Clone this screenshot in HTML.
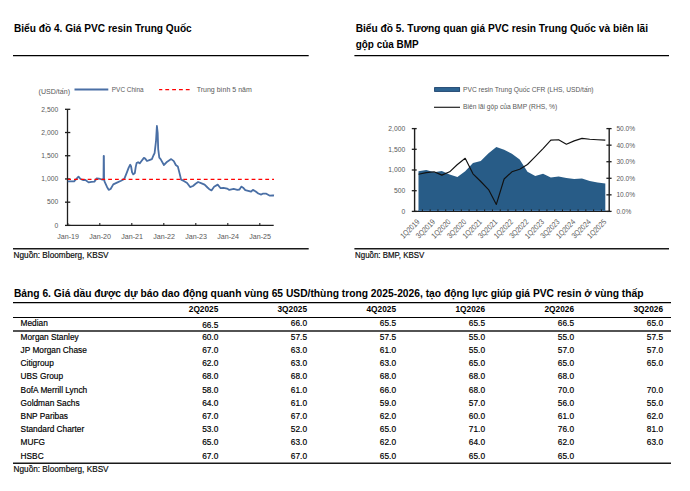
<!DOCTYPE html>
<html><head><meta charset="utf-8"><style>
html,body{margin:0;padding:0;background:#fff;width:690px;height:491px;overflow:hidden}
svg{display:block;font-family:"Liberation Sans", sans-serif}
</style></head><body>
<svg width="690" height="491" viewBox="0 0 690 491">
<rect width="690" height="491" fill="#fff"/>
<text x="14" y="31.7" font-size="10.5" font-weight="700" fill="#000" textLength="177.7" lengthAdjust="spacingAndGlyphs">Biểu đồ 4. Giá PVC resin Trung Quốc</text>
<text x="355.7" y="31.8" font-size="10.5" font-weight="700" fill="#000" textLength="292.3" lengthAdjust="spacingAndGlyphs">Biểu đồ 5. Tương quan giá PVC resin Trung Quốc và biên lãi</text>
<text x="355.7" y="48.0" font-size="10.5" font-weight="700" fill="#000" textLength="62.9" lengthAdjust="spacingAndGlyphs">gộp của BMP</text>
<line x1="13" y1="55.6" x2="308.7" y2="55.6" stroke="#000" stroke-width="1.2"/>
<line x1="354.4" y1="55.6" x2="669" y2="55.6" stroke="#000" stroke-width="1.2"/>
<line x1="13" y1="248.8" x2="308.7" y2="248.8" stroke="#1a1a1a" stroke-width="1.4"/>
<line x1="354.4" y1="248.8" x2="669" y2="248.8" stroke="#1a1a1a" stroke-width="1.4"/>
<text x="13.6" y="258" font-size="8.3" fill="#111" textLength="95" lengthAdjust="spacingAndGlyphs" stroke="#000" stroke-width="0.18">Nguồn: Bloomberg, KBSV</text>
<text x="355.1" y="258" font-size="8.3" fill="#111" textLength="69.2" lengthAdjust="spacingAndGlyphs" stroke="#000" stroke-width="0.18">Nguồn: BMP, KBSV</text>
<text x="38.6" y="94.4" font-size="7.9" fill="#595959" textLength="31.4" lengthAdjust="spacingAndGlyphs">(USD/tấn)</text>
<line x1="74.5" y1="89.5" x2="108.3" y2="89.5" stroke="#4a6fa5" stroke-width="2"/>
<text x="111.8" y="91.8" font-size="7.9" fill="#595959" textLength="31.9" lengthAdjust="spacingAndGlyphs">PVC China</text>
<line x1="159.1" y1="89.7" x2="190.6" y2="89.7" stroke="#ff0000" stroke-width="1.2" stroke-dasharray="3.8 3.03" stroke-dashoffset="0.6"/>
<text x="196.7" y="91.7" font-size="7.9" fill="#595959" textLength="55.1" lengthAdjust="spacingAndGlyphs">Trung bình 5 năm</text>
<line x1="67.5" y1="109.3" x2="67.5" y2="226.0" stroke="#1e1e1e" stroke-width="1.3"/>
<line x1="65" y1="225.4" x2="70.3" y2="225.4" stroke="#1e1e1e" stroke-width="1.3"/>
<text x="58.2" y="227.70000000000002" font-size="7.9" fill="#595959" text-anchor="end" textLength="3.75" lengthAdjust="spacingAndGlyphs">0</text>
<line x1="65" y1="202.18" x2="70.3" y2="202.18" stroke="#1e1e1e" stroke-width="1.3"/>
<text x="58.2" y="204.48000000000002" font-size="7.9" fill="#595959" text-anchor="end" textLength="11.25" lengthAdjust="spacingAndGlyphs">500</text>
<line x1="65" y1="178.96" x2="70.3" y2="178.96" stroke="#1e1e1e" stroke-width="1.3"/>
<text x="58.2" y="181.26000000000002" font-size="7.9" fill="#595959" text-anchor="end" textLength="16.85" lengthAdjust="spacingAndGlyphs">1,000</text>
<line x1="65" y1="155.74" x2="70.3" y2="155.74" stroke="#1e1e1e" stroke-width="1.3"/>
<text x="58.2" y="158.04000000000002" font-size="7.9" fill="#595959" text-anchor="end" textLength="16.85" lengthAdjust="spacingAndGlyphs">1,500</text>
<line x1="65" y1="132.52" x2="70.3" y2="132.52" stroke="#1e1e1e" stroke-width="1.3"/>
<text x="58.2" y="134.82000000000002" font-size="7.9" fill="#595959" text-anchor="end" textLength="16.85" lengthAdjust="spacingAndGlyphs">2,000</text>
<line x1="65" y1="109.30000000000001" x2="70.3" y2="109.30000000000001" stroke="#1e1e1e" stroke-width="1.3"/>
<text x="58.2" y="111.60000000000001" font-size="7.9" fill="#595959" text-anchor="end" textLength="16.85" lengthAdjust="spacingAndGlyphs">2,500</text>
<line x1="67.1" y1="225.4" x2="273.7" y2="225.4" stroke="#1e1e1e" stroke-width="1.4"/>
<line x1="67.8" y1="222.9" x2="67.8" y2="225.4" stroke="#1e1e1e" stroke-width="1.1"/>
<text x="68.1" y="238.9" font-size="7.9" fill="#595959" text-anchor="middle" textLength="21.8" lengthAdjust="spacingAndGlyphs">Jan-19</text>
<line x1="99.8" y1="222.9" x2="99.8" y2="225.4" stroke="#1e1e1e" stroke-width="1.1"/>
<text x="100.1" y="238.9" font-size="7.9" fill="#595959" text-anchor="middle" textLength="21.8" lengthAdjust="spacingAndGlyphs">Jan-20</text>
<line x1="131.8" y1="222.9" x2="131.8" y2="225.4" stroke="#1e1e1e" stroke-width="1.1"/>
<text x="132.10000000000002" y="238.9" font-size="7.9" fill="#595959" text-anchor="middle" textLength="21.8" lengthAdjust="spacingAndGlyphs">Jan-21</text>
<line x1="163.8" y1="222.9" x2="163.8" y2="225.4" stroke="#1e1e1e" stroke-width="1.1"/>
<text x="164.10000000000002" y="238.9" font-size="7.9" fill="#595959" text-anchor="middle" textLength="21.8" lengthAdjust="spacingAndGlyphs">Jan-22</text>
<line x1="195.8" y1="222.9" x2="195.8" y2="225.4" stroke="#1e1e1e" stroke-width="1.1"/>
<text x="196.10000000000002" y="238.9" font-size="7.9" fill="#595959" text-anchor="middle" textLength="21.8" lengthAdjust="spacingAndGlyphs">Jan-23</text>
<line x1="227.8" y1="222.9" x2="227.8" y2="225.4" stroke="#1e1e1e" stroke-width="1.1"/>
<text x="228.10000000000002" y="238.9" font-size="7.9" fill="#595959" text-anchor="middle" textLength="21.8" lengthAdjust="spacingAndGlyphs">Jan-24</text>
<line x1="259.8" y1="222.9" x2="259.8" y2="225.4" stroke="#1e1e1e" stroke-width="1.1"/>
<text x="260.1" y="238.9" font-size="7.9" fill="#595959" text-anchor="middle" textLength="21.8" lengthAdjust="spacingAndGlyphs">Jan-25</text>
<path d="M67.7,181.3 L74.1,181.3 L78.5,176.6 L80.5,179 L83.4,180.1 L85.1,179.8 L88.6,182.4 L91.5,181.9 L94.4,181.6 L96.7,178.4 L99,178.7 L101.9,179.5 L103.5,179.6 L103.7,156 L103.9,156 L104.1,179.4 L104.6,181.7 L106.9,186.7 L108.7,189.9 L110.6,189 L113.3,184.4 L117,182.6 L121.1,180.7 L124.3,178.9 L126.8,172.6 L128.7,167.7 L130.2,164.7 L131.1,166.5 L132,172 L133.2,174.4 L134.8,173.2 L135.7,167.1 L136.6,163.1 L138.1,162.2 L139.7,163.4 L141.5,161 L143.9,157.9 L145.2,158.6 L147,161 L149.4,160.1 L151.9,159.2 L153.4,155.5 L154.6,153.1 L156,141.2 L156.9,126 L157.7,133.2 L158.2,149.1 L159.3,157.7 L160.6,159.1 L163.9,165 L167.2,161.7 L171.2,159.1 L173.8,161.1 L175.8,165 L177.8,166.4 L179.8,174.3 L181.1,179.6 L183.8,180.9 L187.1,182.9 L190.1,187.1 L193,186 L195.6,183.8 L198.1,182 L201,183.1 L204.6,184.6 L207.5,187.5 L209,188.9 L211.5,190.4 L214.1,186.7 L217.7,184.6 L220.6,188.2 L223.5,187.8 L227.1,188.6 L229.3,189.9 L233.7,188.9 L237.3,189.9 L239.5,189.5 L241.3,186.6 L243.1,187.7 L245.3,190.2 L248.2,190.9 L251.1,191.7 L252.9,189.9 L255.4,191.3 L258.3,193.5 L261.2,194.6 L262.7,193.7 L266.3,193.7 L269.9,195.7 L272.8,195.3 L274,195.5" fill="none" stroke="#4a6fa5" stroke-width="1.8" stroke-linejoin="round"/>
<line x1="67.8" y1="179.3" x2="274" y2="179.3" stroke="#ff0000" stroke-width="1.2" stroke-dasharray="3.8 3.03" stroke-dashoffset="0.6"/>
<rect x="434.6" y="87.6" width="25" height="3.8" fill="#2f6593" stroke="#173f6a" stroke-width="0.9"/>
<text x="463" y="91.8" font-size="7.9" fill="#595959" textLength="130.6" lengthAdjust="spacingAndGlyphs">PVC resin Trung Quốc CFR (LHS, USD/tấn)</text>
<line x1="434" y1="107.3" x2="460" y2="107.3" stroke="#222" stroke-width="1.2"/>
<text x="463" y="109.4" font-size="7.9" fill="#595959" textLength="94.2" lengthAdjust="spacingAndGlyphs">Biên lãi gộp của BMP (RHS, %)</text>
<path d="M418.49,211.4 L418.49,171.3 L426.28,169.9 L434.06,172.2 L441.84,171.1 L449.63,174.5 L457.41,177.1 L465.20,171.3 L472.98,162.9 L480.76,161 L488.55,153.3 L496.33,147.1 L504.12,149.7 L511.90,153.8 L519.68,159.6 L527.47,171.8 L535.25,176.1 L543.04,173.7 L550.82,177.6 L558.60,176.4 L566.39,178 L574.17,179 L581.96,178.6 L589.74,180.9 L597.52,182.4 L605.31,183.4 L605.31,211.4 Z" fill="#285c87"/>
<path d="M418.49,174.2 L426.28,172.6 L434.06,171.8 L441.84,175.1 L449.63,171.8 L457.41,164.5 L465.20,158.3 L472.98,173.8 L480.76,181.5 L488.55,189.6 L496.33,204.4 L504.12,179 L511.90,171.8 L519.68,169.3 L527.47,164.5 L535.25,156.7 L543.04,148.6 L550.82,140.1 L558.60,139.7 L566.39,144.2 L574.17,140.9 L581.96,138.4 L589.74,139.3 L597.52,139.7 L605.31,140.1" fill="none" stroke="#111" stroke-width="1.15" stroke-linejoin="round"/>
<line x1="414.6" y1="128.6" x2="414.6" y2="212.0" stroke="#1e1e1e" stroke-width="1.4"/>
<line x1="411.8" y1="211.4" x2="416.7" y2="211.4" stroke="#1e1e1e" stroke-width="1.3"/>
<text x="405.2" y="213.8" font-size="7.9" fill="#595959" text-anchor="end" textLength="3.75" lengthAdjust="spacingAndGlyphs">0</text>
<line x1="411.8" y1="190.70000000000002" x2="416.7" y2="190.70000000000002" stroke="#1e1e1e" stroke-width="1.3"/>
<text x="405.2" y="193.10000000000002" font-size="7.9" fill="#595959" text-anchor="end" textLength="11.25" lengthAdjust="spacingAndGlyphs">500</text>
<line x1="411.8" y1="170.0" x2="416.7" y2="170.0" stroke="#1e1e1e" stroke-width="1.3"/>
<text x="405.2" y="172.4" font-size="7.9" fill="#595959" text-anchor="end" textLength="16.85" lengthAdjust="spacingAndGlyphs">1,000</text>
<line x1="411.8" y1="149.3" x2="416.7" y2="149.3" stroke="#1e1e1e" stroke-width="1.3"/>
<text x="405.2" y="151.70000000000002" font-size="7.9" fill="#595959" text-anchor="end" textLength="16.85" lengthAdjust="spacingAndGlyphs">1,500</text>
<line x1="411.8" y1="128.60000000000002" x2="416.7" y2="128.60000000000002" stroke="#1e1e1e" stroke-width="1.3"/>
<text x="405.2" y="131.00000000000003" font-size="7.9" fill="#595959" text-anchor="end" textLength="16.85" lengthAdjust="spacingAndGlyphs">2,000</text>
<line x1="609.2" y1="128.6" x2="609.2" y2="212.0" stroke="#1e1e1e" stroke-width="1.4"/>
<line x1="606.4" y1="211.4" x2="611.6" y2="211.4" stroke="#1e1e1e" stroke-width="1.3"/>
<text x="616.4" y="213.8" font-size="7.9" fill="#595959" textLength="14.95" lengthAdjust="spacingAndGlyphs">0.0%</text>
<line x1="606.4" y1="194.84" x2="611.6" y2="194.84" stroke="#1e1e1e" stroke-width="1.3"/>
<text x="616.4" y="197.24" font-size="7.9" fill="#595959" textLength="18.7" lengthAdjust="spacingAndGlyphs">10.0%</text>
<line x1="606.4" y1="178.28" x2="611.6" y2="178.28" stroke="#1e1e1e" stroke-width="1.3"/>
<text x="616.4" y="180.68" font-size="7.9" fill="#595959" textLength="18.7" lengthAdjust="spacingAndGlyphs">20.0%</text>
<line x1="606.4" y1="161.72000000000003" x2="611.6" y2="161.72000000000003" stroke="#1e1e1e" stroke-width="1.3"/>
<text x="616.4" y="164.12000000000003" font-size="7.9" fill="#595959" textLength="18.7" lengthAdjust="spacingAndGlyphs">30.0%</text>
<line x1="606.4" y1="145.16000000000003" x2="611.6" y2="145.16000000000003" stroke="#1e1e1e" stroke-width="1.3"/>
<text x="616.4" y="147.56000000000003" font-size="7.9" fill="#595959" textLength="18.7" lengthAdjust="spacingAndGlyphs">40.0%</text>
<line x1="606.4" y1="128.60000000000002" x2="611.6" y2="128.60000000000002" stroke="#1e1e1e" stroke-width="1.3"/>
<text x="616.4" y="131.00000000000003" font-size="7.9" fill="#595959" textLength="18.7" lengthAdjust="spacingAndGlyphs">50.0%</text>
<line x1="418.492" y1="210.5" x2="605.308" y2="210.5" stroke="#4d8fd1" stroke-width="1.0"/>
<line x1="413.90000000000003" y1="211.4" x2="609.9000000000001" y2="211.4" stroke="#1e1e1e" stroke-width="1.4"/>
<line x1="422.384" y1="209.4" x2="422.384" y2="211.4" stroke="#1e1e1e" stroke-width="1.0"/>
<line x1="430.168" y1="209.4" x2="430.168" y2="211.4" stroke="#1e1e1e" stroke-width="1.0"/>
<line x1="437.952" y1="209.4" x2="437.952" y2="211.4" stroke="#1e1e1e" stroke-width="1.0"/>
<line x1="445.73600000000005" y1="209.4" x2="445.73600000000005" y2="211.4" stroke="#1e1e1e" stroke-width="1.0"/>
<line x1="453.52000000000004" y1="209.4" x2="453.52000000000004" y2="211.4" stroke="#1e1e1e" stroke-width="1.0"/>
<line x1="461.30400000000003" y1="209.4" x2="461.30400000000003" y2="211.4" stroke="#1e1e1e" stroke-width="1.0"/>
<line x1="469.088" y1="209.4" x2="469.088" y2="211.4" stroke="#1e1e1e" stroke-width="1.0"/>
<line x1="476.872" y1="209.4" x2="476.872" y2="211.4" stroke="#1e1e1e" stroke-width="1.0"/>
<line x1="484.65600000000006" y1="209.4" x2="484.65600000000006" y2="211.4" stroke="#1e1e1e" stroke-width="1.0"/>
<line x1="492.44000000000005" y1="209.4" x2="492.44000000000005" y2="211.4" stroke="#1e1e1e" stroke-width="1.0"/>
<line x1="500.22400000000005" y1="209.4" x2="500.22400000000005" y2="211.4" stroke="#1e1e1e" stroke-width="1.0"/>
<line x1="508.00800000000004" y1="209.4" x2="508.00800000000004" y2="211.4" stroke="#1e1e1e" stroke-width="1.0"/>
<line x1="515.792" y1="209.4" x2="515.792" y2="211.4" stroke="#1e1e1e" stroke-width="1.0"/>
<line x1="523.576" y1="209.4" x2="523.576" y2="211.4" stroke="#1e1e1e" stroke-width="1.0"/>
<line x1="531.36" y1="209.4" x2="531.36" y2="211.4" stroke="#1e1e1e" stroke-width="1.0"/>
<line x1="539.144" y1="209.4" x2="539.144" y2="211.4" stroke="#1e1e1e" stroke-width="1.0"/>
<line x1="546.928" y1="209.4" x2="546.928" y2="211.4" stroke="#1e1e1e" stroke-width="1.0"/>
<line x1="554.712" y1="209.4" x2="554.712" y2="211.4" stroke="#1e1e1e" stroke-width="1.0"/>
<line x1="562.4960000000001" y1="209.4" x2="562.4960000000001" y2="211.4" stroke="#1e1e1e" stroke-width="1.0"/>
<line x1="570.28" y1="209.4" x2="570.28" y2="211.4" stroke="#1e1e1e" stroke-width="1.0"/>
<line x1="578.0640000000001" y1="209.4" x2="578.0640000000001" y2="211.4" stroke="#1e1e1e" stroke-width="1.0"/>
<line x1="585.8480000000001" y1="209.4" x2="585.8480000000001" y2="211.4" stroke="#1e1e1e" stroke-width="1.0"/>
<line x1="593.6320000000001" y1="209.4" x2="593.6320000000001" y2="211.4" stroke="#1e1e1e" stroke-width="1.0"/>
<line x1="601.416" y1="209.4" x2="601.416" y2="211.4" stroke="#1e1e1e" stroke-width="1.0"/>
<text x="420.09" y="222.5" font-size="7.9" fill="#595959" text-anchor="end" textLength="23.5" lengthAdjust="spacingAndGlyphs" transform="rotate(-45 420.09 222.5)">1Q2019</text>
<text x="435.66" y="222.5" font-size="7.9" fill="#595959" text-anchor="end" textLength="23.5" lengthAdjust="spacingAndGlyphs" transform="rotate(-45 435.66 222.5)">3Q2019</text>
<text x="451.23" y="222.5" font-size="7.9" fill="#595959" text-anchor="end" textLength="23.5" lengthAdjust="spacingAndGlyphs" transform="rotate(-45 451.23 222.5)">1Q2020</text>
<text x="466.80" y="222.5" font-size="7.9" fill="#595959" text-anchor="end" textLength="23.5" lengthAdjust="spacingAndGlyphs" transform="rotate(-45 466.80 222.5)">3Q2020</text>
<text x="482.36" y="222.5" font-size="7.9" fill="#595959" text-anchor="end" textLength="23.5" lengthAdjust="spacingAndGlyphs" transform="rotate(-45 482.36 222.5)">1Q2021</text>
<text x="497.93" y="222.5" font-size="7.9" fill="#595959" text-anchor="end" textLength="23.5" lengthAdjust="spacingAndGlyphs" transform="rotate(-45 497.93 222.5)">3Q2021</text>
<text x="513.50" y="222.5" font-size="7.9" fill="#595959" text-anchor="end" textLength="23.5" lengthAdjust="spacingAndGlyphs" transform="rotate(-45 513.50 222.5)">1Q2022</text>
<text x="529.07" y="222.5" font-size="7.9" fill="#595959" text-anchor="end" textLength="23.5" lengthAdjust="spacingAndGlyphs" transform="rotate(-45 529.07 222.5)">3Q2022</text>
<text x="544.64" y="222.5" font-size="7.9" fill="#595959" text-anchor="end" textLength="23.5" lengthAdjust="spacingAndGlyphs" transform="rotate(-45 544.64 222.5)">1Q2023</text>
<text x="560.20" y="222.5" font-size="7.9" fill="#595959" text-anchor="end" textLength="23.5" lengthAdjust="spacingAndGlyphs" transform="rotate(-45 560.20 222.5)">3Q2023</text>
<text x="575.77" y="222.5" font-size="7.9" fill="#595959" text-anchor="end" textLength="23.5" lengthAdjust="spacingAndGlyphs" transform="rotate(-45 575.77 222.5)">1Q2024</text>
<text x="591.34" y="222.5" font-size="7.9" fill="#595959" text-anchor="end" textLength="23.5" lengthAdjust="spacingAndGlyphs" transform="rotate(-45 591.34 222.5)">3Q2024</text>
<text x="606.91" y="222.5" font-size="7.9" fill="#595959" text-anchor="end" textLength="23.5" lengthAdjust="spacingAndGlyphs" transform="rotate(-45 606.91 222.5)">1Q2025</text>
<text x="13.9" y="296.8" font-size="10.3" font-weight="700" fill="#000" textLength="629.6" lengthAdjust="spacingAndGlyphs">Bảng 6. Giá dầu được dự báo dao động quanh vùng 65 USD/thùng trong 2025-2026, tạo động lực giúp giá PVC resin ở vùng thấp</text>
<line x1="13" y1="302.6" x2="671" y2="302.6" stroke="#000" stroke-width="1.1"/>
<line x1="13" y1="317.5" x2="671" y2="317.5" stroke="#000" stroke-width="1.1"/>
<line x1="13" y1="331.0" x2="671" y2="331.0" stroke="#1a1a1a" stroke-width="1.6"/>
<line x1="13" y1="463.3" x2="671" y2="463.3" stroke="#1a1a1a" stroke-width="1.5"/>
<text x="218.3" y="311.8" font-size="8.3" font-weight="700" fill="#000" text-anchor="end">2Q2025</text>
<text x="307" y="311.8" font-size="8.3" font-weight="700" fill="#000" text-anchor="end">3Q2025</text>
<text x="396" y="311.8" font-size="8.3" font-weight="700" fill="#000" text-anchor="end">4Q2025</text>
<text x="485" y="311.8" font-size="8.3" font-weight="700" fill="#000" text-anchor="end">1Q2026</text>
<text x="574" y="311.8" font-size="8.3" font-weight="700" fill="#000" text-anchor="end">2Q2026</text>
<text x="663" y="311.8" font-size="8.3" font-weight="700" fill="#000" text-anchor="end">3Q2026</text>
<text x="20.6" y="325.6" font-size="8.3" fill="#000" stroke="#000" stroke-width="0.18">Median</text>
<text x="218.3" y="327.5" font-size="8.3" fill="#000" text-anchor="end" stroke="#000" stroke-width="0.18">66.5</text>
<text x="307" y="325.8" font-size="8.3" fill="#000" text-anchor="end" stroke="#000" stroke-width="0.18">66.0</text>
<text x="396" y="326.1" font-size="8.3" fill="#000" text-anchor="end" stroke="#000" stroke-width="0.18">65.5</text>
<text x="485" y="326.1" font-size="8.3" fill="#000" text-anchor="end" stroke="#000" stroke-width="0.18">65.5</text>
<text x="574" y="326.1" font-size="8.3" fill="#000" text-anchor="end" stroke="#000" stroke-width="0.18">66.5</text>
<text x="663" y="326.1" font-size="8.3" fill="#000" text-anchor="end" stroke="#000" stroke-width="0.18">65.0</text>
<text x="20.6" y="339.7" font-size="8.3" fill="#000" stroke="#000" stroke-width="0.18">Morgan Stanley</text>
<text x="218.3" y="339.7" font-size="8.3" fill="#000" text-anchor="end" stroke="#000" stroke-width="0.18">60.0</text>
<text x="307" y="339.7" font-size="8.3" fill="#000" text-anchor="end" stroke="#000" stroke-width="0.18">57.5</text>
<text x="396" y="339.7" font-size="8.3" fill="#000" text-anchor="end" stroke="#000" stroke-width="0.18">57.5</text>
<text x="485" y="339.7" font-size="8.3" fill="#000" text-anchor="end" stroke="#000" stroke-width="0.18">55.0</text>
<text x="574" y="339.7" font-size="8.3" fill="#000" text-anchor="end" stroke="#000" stroke-width="0.18">55.0</text>
<text x="663" y="339.7" font-size="8.3" fill="#000" text-anchor="end" stroke="#000" stroke-width="0.18">57.5</text>
<text x="20.6" y="352.90999999999997" font-size="8.3" fill="#000" stroke="#000" stroke-width="0.18">JP Morgan Chase</text>
<text x="218.3" y="352.90999999999997" font-size="8.3" fill="#000" text-anchor="end" stroke="#000" stroke-width="0.18">67.0</text>
<text x="307" y="352.90999999999997" font-size="8.3" fill="#000" text-anchor="end" stroke="#000" stroke-width="0.18">63.0</text>
<text x="396" y="352.90999999999997" font-size="8.3" fill="#000" text-anchor="end" stroke="#000" stroke-width="0.18">61.0</text>
<text x="485" y="352.90999999999997" font-size="8.3" fill="#000" text-anchor="end" stroke="#000" stroke-width="0.18">55.0</text>
<text x="574" y="352.90999999999997" font-size="8.3" fill="#000" text-anchor="end" stroke="#000" stroke-width="0.18">57.0</text>
<text x="663" y="352.90999999999997" font-size="8.3" fill="#000" text-anchor="end" stroke="#000" stroke-width="0.18">57.0</text>
<text x="20.6" y="366.12" font-size="8.3" fill="#000" stroke="#000" stroke-width="0.18">Citigroup</text>
<text x="218.3" y="366.12" font-size="8.3" fill="#000" text-anchor="end" stroke="#000" stroke-width="0.18">62.0</text>
<text x="307" y="366.12" font-size="8.3" fill="#000" text-anchor="end" stroke="#000" stroke-width="0.18">63.0</text>
<text x="396" y="366.12" font-size="8.3" fill="#000" text-anchor="end" stroke="#000" stroke-width="0.18">63.0</text>
<text x="485" y="366.12" font-size="8.3" fill="#000" text-anchor="end" stroke="#000" stroke-width="0.18">65.0</text>
<text x="574" y="366.12" font-size="8.3" fill="#000" text-anchor="end" stroke="#000" stroke-width="0.18">65.0</text>
<text x="663" y="366.12" font-size="8.3" fill="#000" text-anchor="end" stroke="#000" stroke-width="0.18">65.0</text>
<text x="20.6" y="379.33" font-size="8.3" fill="#000" stroke="#000" stroke-width="0.18">UBS Group</text>
<text x="218.3" y="379.33" font-size="8.3" fill="#000" text-anchor="end" stroke="#000" stroke-width="0.18">68.0</text>
<text x="307" y="379.33" font-size="8.3" fill="#000" text-anchor="end" stroke="#000" stroke-width="0.18">68.0</text>
<text x="396" y="379.33" font-size="8.3" fill="#000" text-anchor="end" stroke="#000" stroke-width="0.18">68.0</text>
<text x="485" y="379.33" font-size="8.3" fill="#000" text-anchor="end" stroke="#000" stroke-width="0.18">68.0</text>
<text x="574" y="379.33" font-size="8.3" fill="#000" text-anchor="end" stroke="#000" stroke-width="0.18">68.0</text>
<text x="20.6" y="392.53999999999996" font-size="8.3" fill="#000" stroke="#000" stroke-width="0.18">BofA Merrill Lynch</text>
<text x="218.3" y="392.53999999999996" font-size="8.3" fill="#000" text-anchor="end" stroke="#000" stroke-width="0.18">58.0</text>
<text x="307" y="392.53999999999996" font-size="8.3" fill="#000" text-anchor="end" stroke="#000" stroke-width="0.18">61.0</text>
<text x="396" y="392.53999999999996" font-size="8.3" fill="#000" text-anchor="end" stroke="#000" stroke-width="0.18">66.0</text>
<text x="485" y="392.53999999999996" font-size="8.3" fill="#000" text-anchor="end" stroke="#000" stroke-width="0.18">68.0</text>
<text x="574" y="392.53999999999996" font-size="8.3" fill="#000" text-anchor="end" stroke="#000" stroke-width="0.18">70.0</text>
<text x="663" y="392.53999999999996" font-size="8.3" fill="#000" text-anchor="end" stroke="#000" stroke-width="0.18">70.0</text>
<text x="20.6" y="405.75" font-size="8.3" fill="#000" stroke="#000" stroke-width="0.18">Goldman Sachs</text>
<text x="218.3" y="405.75" font-size="8.3" fill="#000" text-anchor="end" stroke="#000" stroke-width="0.18">64.0</text>
<text x="307" y="405.75" font-size="8.3" fill="#000" text-anchor="end" stroke="#000" stroke-width="0.18">61.0</text>
<text x="396" y="405.75" font-size="8.3" fill="#000" text-anchor="end" stroke="#000" stroke-width="0.18">59.0</text>
<text x="485" y="405.75" font-size="8.3" fill="#000" text-anchor="end" stroke="#000" stroke-width="0.18">57.0</text>
<text x="574" y="405.75" font-size="8.3" fill="#000" text-anchor="end" stroke="#000" stroke-width="0.18">56.0</text>
<text x="663" y="405.75" font-size="8.3" fill="#000" text-anchor="end" stroke="#000" stroke-width="0.18">55.0</text>
<text x="20.6" y="418.96" font-size="8.3" fill="#000" stroke="#000" stroke-width="0.18">BNP Paribas</text>
<text x="218.3" y="418.96" font-size="8.3" fill="#000" text-anchor="end" stroke="#000" stroke-width="0.18">67.0</text>
<text x="307" y="418.96" font-size="8.3" fill="#000" text-anchor="end" stroke="#000" stroke-width="0.18">67.0</text>
<text x="396" y="418.96" font-size="8.3" fill="#000" text-anchor="end" stroke="#000" stroke-width="0.18">62.0</text>
<text x="485" y="418.96" font-size="8.3" fill="#000" text-anchor="end" stroke="#000" stroke-width="0.18">60.0</text>
<text x="574" y="418.96" font-size="8.3" fill="#000" text-anchor="end" stroke="#000" stroke-width="0.18">61.0</text>
<text x="663" y="418.96" font-size="8.3" fill="#000" text-anchor="end" stroke="#000" stroke-width="0.18">62.0</text>
<text x="20.6" y="432.16999999999996" font-size="8.3" fill="#000" stroke="#000" stroke-width="0.18">Standard Charter</text>
<text x="218.3" y="432.16999999999996" font-size="8.3" fill="#000" text-anchor="end" stroke="#000" stroke-width="0.18">53.0</text>
<text x="307" y="432.16999999999996" font-size="8.3" fill="#000" text-anchor="end" stroke="#000" stroke-width="0.18">52.0</text>
<text x="396" y="432.16999999999996" font-size="8.3" fill="#000" text-anchor="end" stroke="#000" stroke-width="0.18">65.0</text>
<text x="485" y="432.16999999999996" font-size="8.3" fill="#000" text-anchor="end" stroke="#000" stroke-width="0.18">71.0</text>
<text x="574" y="432.16999999999996" font-size="8.3" fill="#000" text-anchor="end" stroke="#000" stroke-width="0.18">76.0</text>
<text x="663" y="432.16999999999996" font-size="8.3" fill="#000" text-anchor="end" stroke="#000" stroke-width="0.18">81.0</text>
<text x="20.6" y="445.38" font-size="8.3" fill="#000" stroke="#000" stroke-width="0.18">MUFG</text>
<text x="218.3" y="445.38" font-size="8.3" fill="#000" text-anchor="end" stroke="#000" stroke-width="0.18">65.0</text>
<text x="307" y="445.38" font-size="8.3" fill="#000" text-anchor="end" stroke="#000" stroke-width="0.18">63.0</text>
<text x="396" y="445.38" font-size="8.3" fill="#000" text-anchor="end" stroke="#000" stroke-width="0.18">62.0</text>
<text x="485" y="445.38" font-size="8.3" fill="#000" text-anchor="end" stroke="#000" stroke-width="0.18">64.0</text>
<text x="574" y="445.38" font-size="8.3" fill="#000" text-anchor="end" stroke="#000" stroke-width="0.18">62.0</text>
<text x="663" y="445.38" font-size="8.3" fill="#000" text-anchor="end" stroke="#000" stroke-width="0.18">63.0</text>
<text x="20.6" y="458.59000000000003" font-size="8.3" fill="#000" stroke="#000" stroke-width="0.18">HSBC</text>
<text x="218.3" y="458.59000000000003" font-size="8.3" fill="#000" text-anchor="end" stroke="#000" stroke-width="0.18">67.0</text>
<text x="307" y="458.59000000000003" font-size="8.3" fill="#000" text-anchor="end" stroke="#000" stroke-width="0.18">67.0</text>
<text x="396" y="458.59000000000003" font-size="8.3" fill="#000" text-anchor="end" stroke="#000" stroke-width="0.18">65.0</text>
<text x="485" y="458.59000000000003" font-size="8.3" fill="#000" text-anchor="end" stroke="#000" stroke-width="0.18">65.0</text>
<text x="574" y="458.59000000000003" font-size="8.3" fill="#000" text-anchor="end" stroke="#000" stroke-width="0.18">65.0</text>
<text x="13.6" y="471.7" font-size="8.3" fill="#111" textLength="95" lengthAdjust="spacingAndGlyphs" stroke="#000" stroke-width="0.18">Nguồn: Bloomberg, KBSV</text>
</svg>
</body></html>
